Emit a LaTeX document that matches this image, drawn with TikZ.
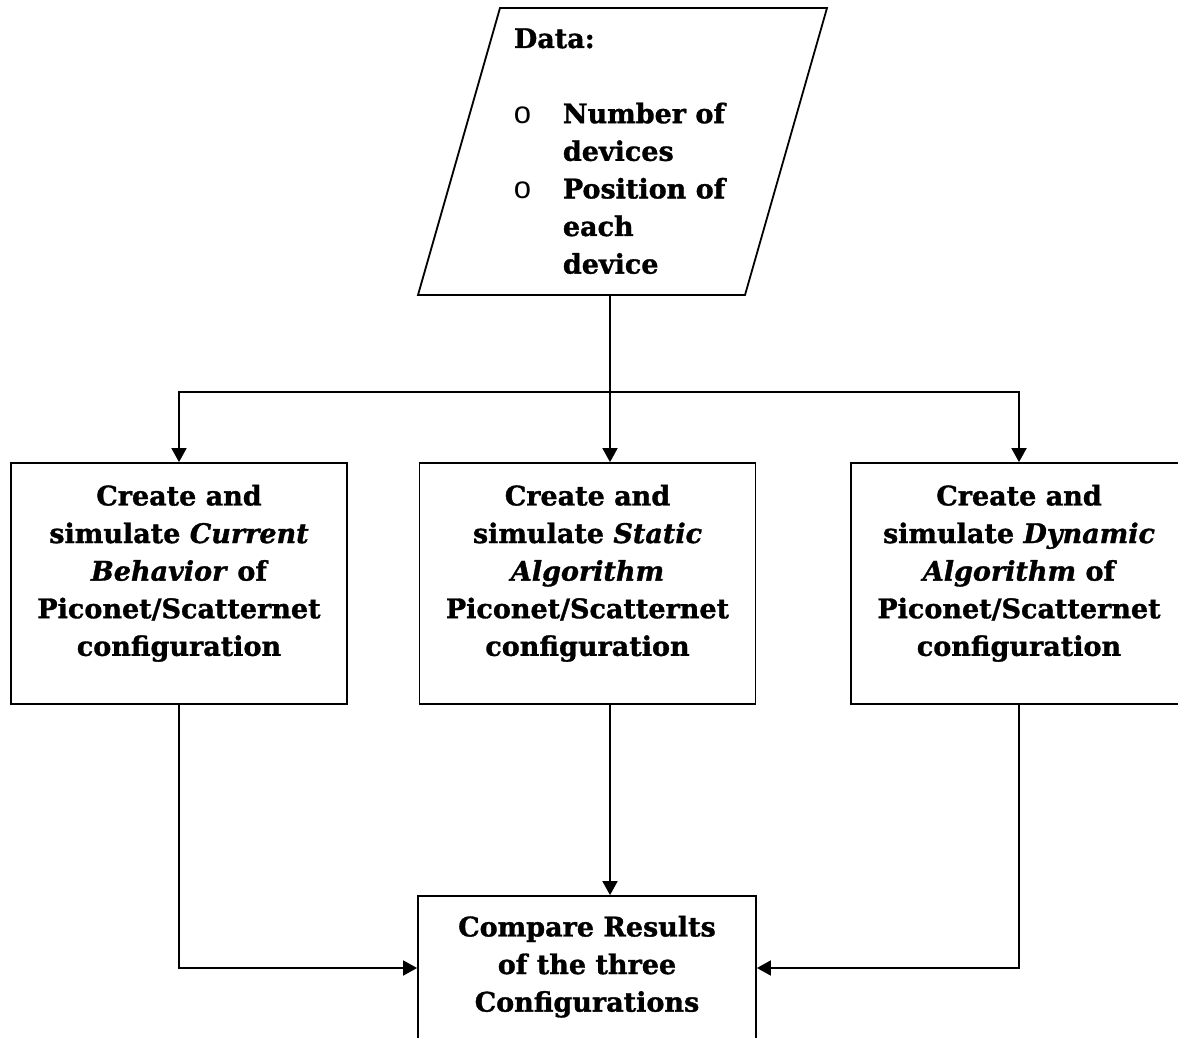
\documentclass[tikz,border=0pt]{standalone}
\usepackage{fontspec}
\setmainfont{DejaVu Serif}[BoldFeatures={FakeBold=1.2},BoldItalicFeatures={FakeBold=1.2}]
\newfontfamily\bulletfont{Liberation Sans}
\usetikzlibrary{arrows.meta}

\begin{document}
\begin{tikzpicture}[x=1pt,y=-1pt,
  line width=1.8pt,
  box/.style={draw, rectangle, minimum width=336pt, minimum height=241pt, inner sep=0pt},
  lbl/.style={align=center, font=\fontsize{27}{37.6}\selectfont\bfseries, inner sep=0pt, anchor=north},
  arr/.style={-{Triangle[length=14pt,width=15pt]}},
]
\useasboundingbox (0,0) rectangle (1178,1038);
\clip (0,0) rectangle (1178,1038);

% input data parallelogram
\coordinate (dtl) at (500,8);
\coordinate (dtr) at (827,8);
\coordinate (dbr) at (745,295);
\coordinate (dbl) at (418,295);
\draw[line join=miter] (dtl) -- (dtr) -- (dbr) -- (dbl) -- cycle;
\node[anchor=base west, inner sep=0pt, font=\fontsize{27}{37.6}\selectfont\bfseries]
  (datatext) at (513,48) {%
  \begin{tabular}[t]{@{}p{49pt}@{}l@{}}
    \multicolumn{2}{@{}l@{}}{Data:}\\
    \\
    {\bulletfont\mdseries\fontsize{31}{37.6}\selectfont o} & Number of\\
    & devices\\
    {\bulletfont\mdseries\fontsize{31}{37.6}\selectfont o} & Position of\\
    & each\\
    & device
  \end{tabular}};

% the three configurations
\node[box] (b1) at (179,583.5) {};
\node[box] (b2) at (587.5,583.5) {};
\node[box] (b3) at (1019,583.5) {};
\node[lbl] (t1) at (179,484) {Create and\\simulate \textit{Current}\\\textit{Behavior} of\\Piconet/Scatternet\\configuration};
\node[lbl] (t2) at (587.5,484) {Create and\\simulate \textit{Static}\\\textit{Algorithm}\\Piconet/Scatternet\\configuration};
\node[lbl] (t3) at (1019,484) {Create and\\simulate \textit{Dynamic}\\\textit{Algorithm} of\\Piconet/Scatternet\\configuration};

% comparison
\node[box, minimum width=338pt, minimum height=144pt] (b4) at (587,968) {};
\node[lbl] (t4) at (587,915) {Compare Results\\of the three\\Configurations};

% connectors
\coordinate (split) at (610,392);
\draw (split |- dbl) -- (split);
\draw[arr] (split) -| (b1.north);
\draw[arr] (split) -- (split |- b2.north);
\draw[arr] (split) -| (b3.north);
\draw[arr] (b1.south) |- (b4.west);
\draw[arr] (b2.south -| split) -- (split |- b4.north);
\draw[arr] (b3.south) |- (b4.east);
\end{tikzpicture}
\end{document}
